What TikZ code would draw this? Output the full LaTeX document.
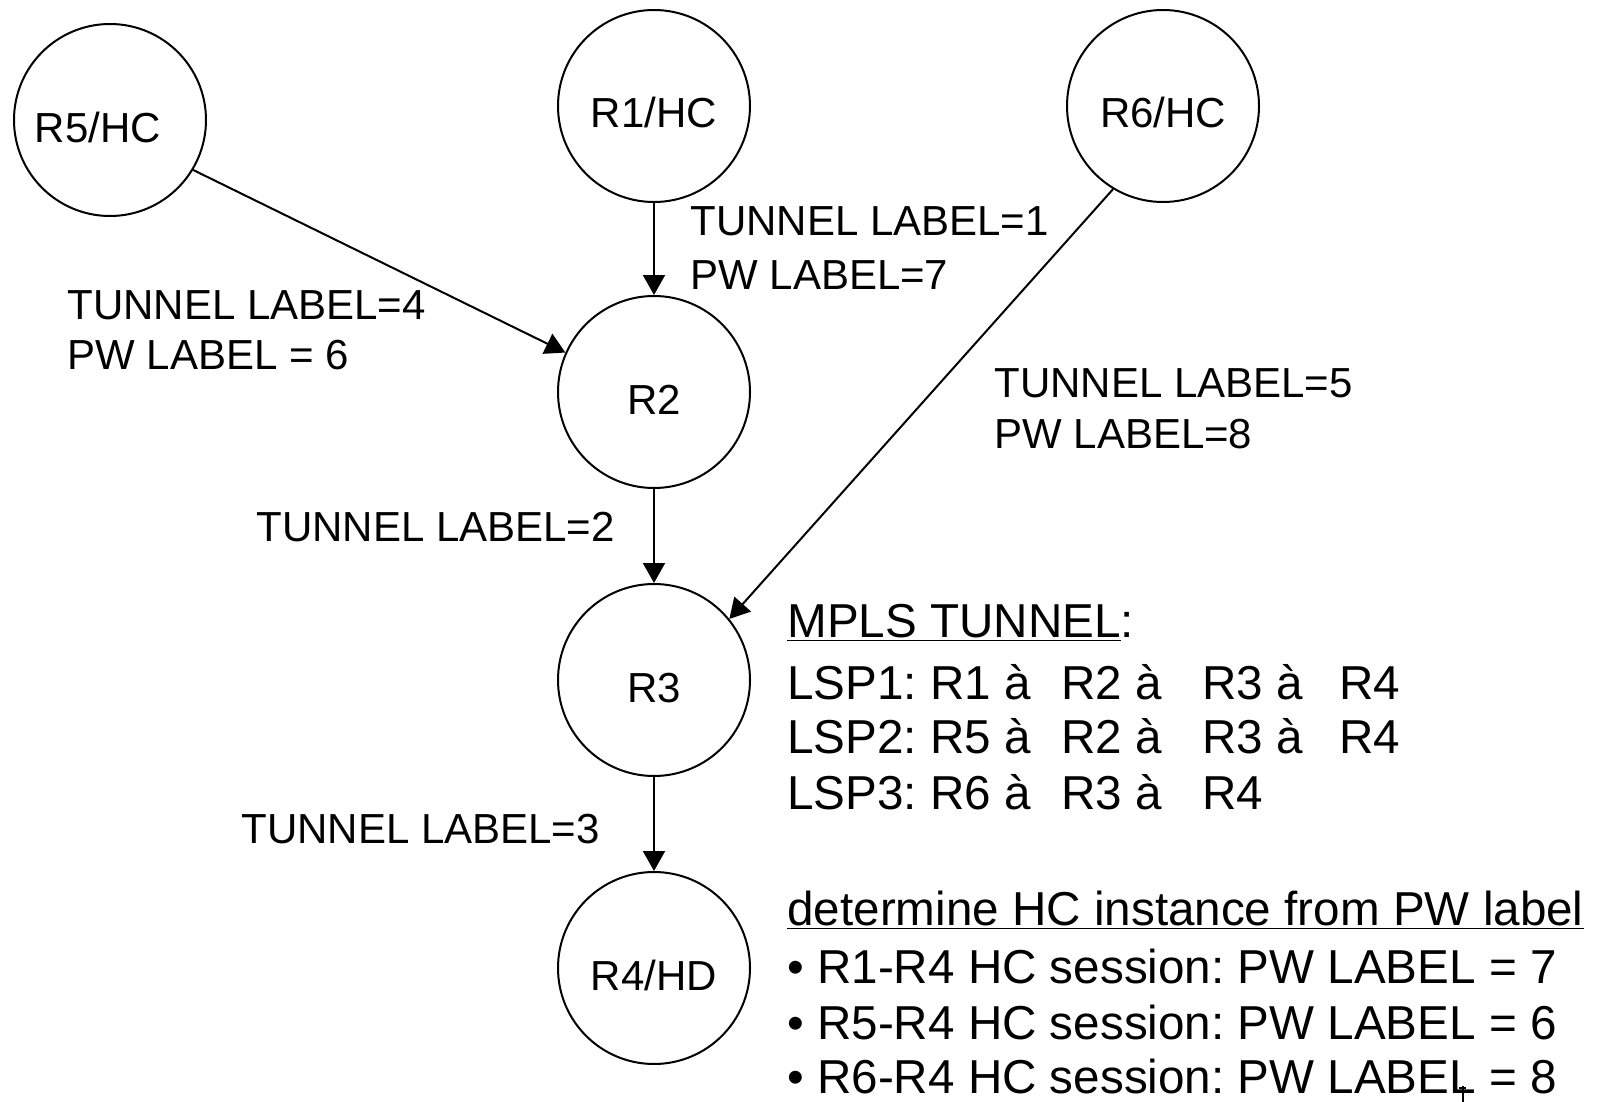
\documentclass[tikz,border=0pt]{standalone}
\usepackage{fontspec}
\setmainfont{Liberation Sans}
\usetikzlibrary{arrows.meta}
\begin{document}
\frenchspacing
\begin{tikzpicture}[x=0.5pt,y=-0.5pt,
  router/.style={circle,draw,line width=1pt,minimum size=96pt,inner sep=0pt,
    text height=22pt,text depth=0pt,font=\fontsize{21}{25}\selectfont},
  link/.style={line width=1pt,-{Triangle[length=10pt,width=11pt]}},
  lbl/.style={anchor=base west,inner sep=0pt,font=\fontsize{21}{25}\selectfont},
  note/.style={anchor=base west,inner sep=0pt,font=\fontsize{23.8}{28}\selectfont}]
\useasboundingbox (0,0) rectangle (1607,1102);
\node[router] (R5) at (110,120) {\hspace*{-12pt}R5/HC};
\node[router] (R1) at (654,106) {R1/HC};
\node[router] (R6) at (1163,106) {R6/HC};
\node[router] (R2) at (654,392) {R2};
\node[router] (R3) at (654,680) {R3};
\node[router] (R4) at (654,968) {R4/HD};
\draw[link] (R1.south) -- (R2.north);
\draw[link] (R5.329) -- (R2.156);
\draw[link] (R6.239) -- (R3.39);
\draw[link] (R2.south) -- (R3.north);
\draw[link] (R3.south) -- (R4.north);
\node[lbl] (t4) at (67,319) {TUNNEL LABEL=4};
\node[lbl] (p6) at (67,369) {PW LABEL = 6};
\node[lbl] (t1) at (690,235) {TUNNEL LABEL=1};
\node[lbl] (p7) at (690,289) {PW LABEL=7};
\node[lbl] (t5) at (994,397) {TUNNEL LABEL=5};
\node[lbl] (p8) at (994,448) {PW LABEL=8};
\node[lbl] (t2) at (256,541) {TUNNEL LABEL=2};
\node[lbl] (t3) at (241,843) {TUNNEL LABEL=3};
\node[note] (mpls) at (787,637) {\underline{MPLS TUNNEL}:};
\node[note] (lsp1) at (787,699) {\makebox[137pt][l]{LSP1: R1 à}\makebox[70.5pt][l]{R2 à}\makebox[68.5pt][l]{R3 à}R4};
\node[note] (lsp2) at (787,753) {\makebox[137pt][l]{LSP2: R5 à}\makebox[70.5pt][l]{R2 à}\makebox[68.5pt][l]{R3 à}R4};
\node[note] (lsp3) at (787,809) {\makebox[137pt][l]{LSP3: R6 à}\makebox[70.5pt][l]{R3 à}R4};
\node[note] (det) at (787,925) {\underline{determine HC instance from PW label}};
\node[note] (b1) at (787,983) {• R1-R4 HC session: PW LABEL = 7};
\node[note] (b2) at (787,1039) {• R5-R4 HC session: PW LABEL = 6};
\node[note] (b3) at (787,1093) {• R6-R4 HC session: PW LABEL = 8};
\draw[line width=0.6pt] (1463,1086) -- (1463,1102) (1459,1088) -- (1466,1088);
\end{tikzpicture}
\end{document}
